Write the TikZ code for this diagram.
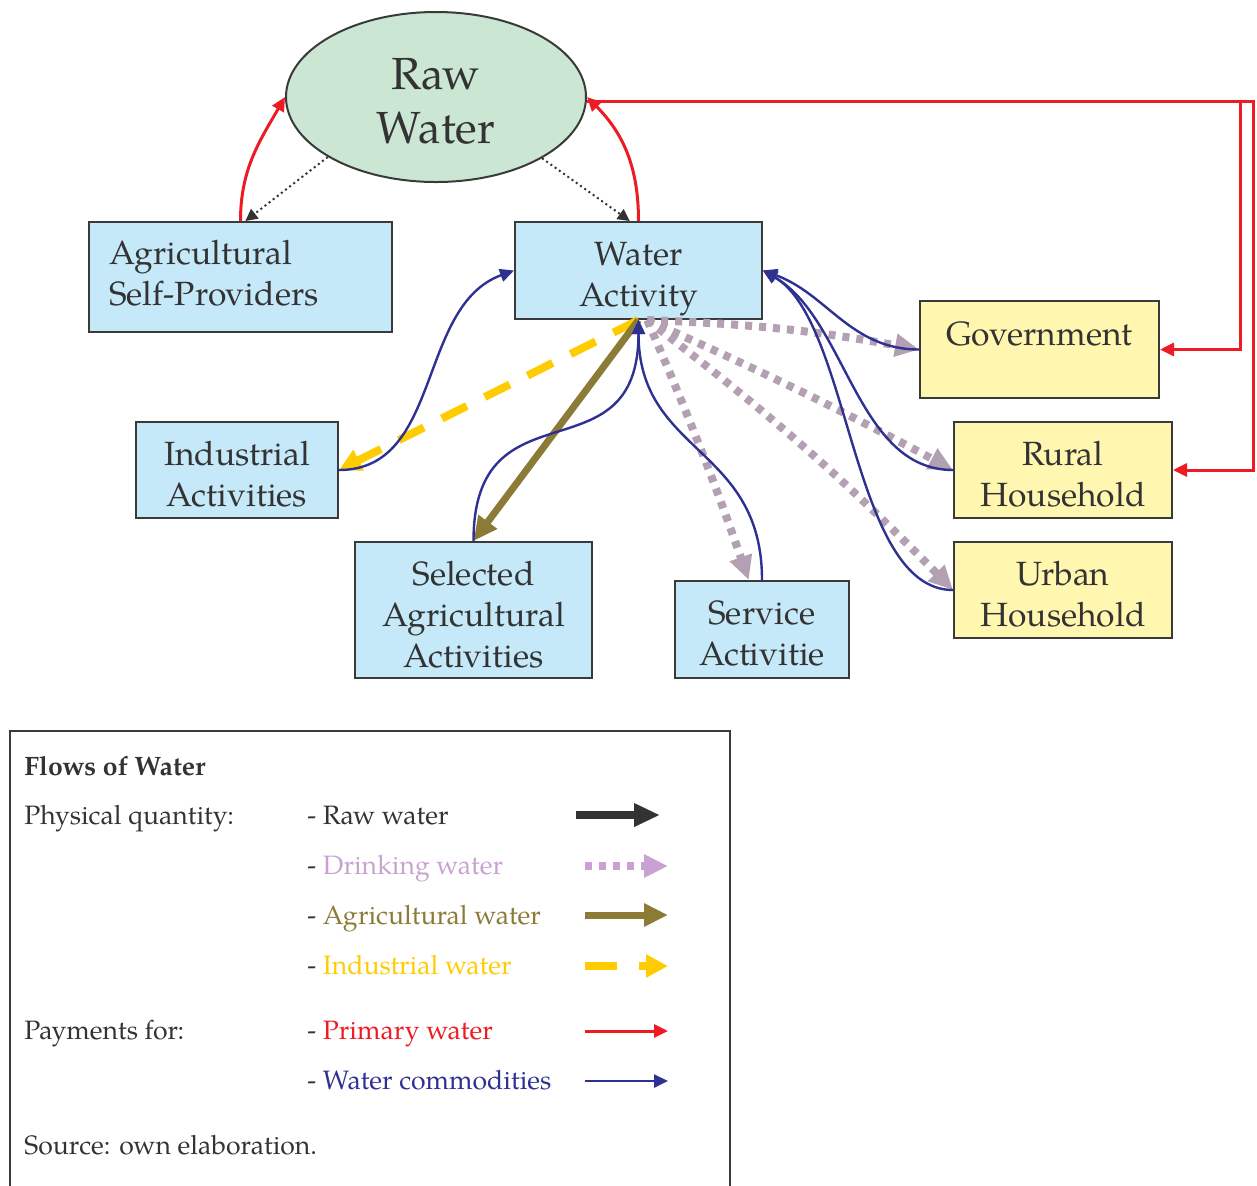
\documentclass[tikz,border=0pt]{standalone}
\usepackage{fontspec}
\setmainfont{texgyrepagella}[Extension=.otf,UprightFont=*-regular,BoldFont=*-bold,ItalicFont=*-italic,BoldItalicFont=*-bolditalic]
\usetikzlibrary{arrows.meta,shapes.geometric}

\definecolor{rawgreen}{HTML}{CBE6D3}
\definecolor{actblue}{HTML}{C5E9F8}
\definecolor{hhyellow}{HTML}{FFF7B0}
\definecolor{edgegray}{HTML}{3A3A3A}
\definecolor{txtgray}{HTML}{333333}
\definecolor{commodblue}{HTML}{2E3192}
\definecolor{primred}{HTML}{ED1C24}
\definecolor{agrolive}{HTML}{8C7B37}
\definecolor{indyellow}{HTML}{FFCC00}
\definecolor{drinkgray}{HTML}{B3A0B2}
\definecolor{drinklilac}{HTML}{C9A2D1}

% invisible strut that pushes a box text down (top) or up (bottom)
\newcommand\topgap[1]{\rule{0pt}{#1}}
\newcommand\botgap[1]{\rule[-#1]{0pt}{#1}}

\begin{document}
\begin{tikzpicture}[x=0.5pt,y=-0.5pt,
      box/.style={draw=edgegray,line width=1pt,fill=actblue,text=txtgray,align=center,inner sep=0pt,
        font=\fontsize{16.8}{20.5}\selectfont},
      hhbox/.style={box,fill=hhyellow},
      legtext/.style={anchor=base west,inner sep=0pt,text=txtgray,font=\fontsize{13.3}{16}\selectfont},
      rawflow/.style={draw=txtgray,line width=1pt,dash pattern=on 1pt off 1.6pt,-{Triangle[length=6pt,width=6pt]}},
      drink/.style={draw=drinkgray,line width=4pt,dash pattern=on 3.5pt off 3.5pt,-{Triangle[length=12pt,width=11pt]}},
      agrflow/.style={draw=agrolive,line width=3.5pt,-{Triangle[length=12pt,width=11pt]}},
      indflow/.style={draw=indyellow,line width=4pt,dash pattern=on 14pt off 10pt,-{Triangle[length=11pt,width=11pt]}},
      pay/.style={draw=primred,line width=1.5pt,-{Triangle[length=7pt,width=6.5pt]}},
      commod/.style={draw=commodblue,line width=1.2pt,-{Triangle[length=7pt,width=6.5pt]}}]
    \useasboundingbox (0,0) rectangle (1257,1185);

    % actors
    \node[ellipse,draw=edgegray,line width=1pt,fill=rawgreen,minimum width=150pt,minimum height=85pt,
      inner sep=0pt,align=center,text=txtgray,font=\fontsize{22.5}{27}\selectfont] (rawwater) at (436,97) {\topgap{19.6pt}Raw\\Water};
    \node[box,minimum width=151.5pt,minimum height=55pt,text width=131.5pt,align=left] (agself) at (240.5,277) {Agricultural\\Self-Providers\botgap{4.5pt}};
    \node[box,minimum width=123.5pt,minimum height=48.5pt] (wa) at (638.5,270.5) {\topgap{20.6pt}Water\\Activity};
    \node[hhbox,minimum width=119.5pt,minimum height=48.5pt] (gov) at (1039.5,349.5) {\topgap{16.6pt}Government\\\mbox{}};
    \node[hhbox,minimum width=109pt,minimum height=48pt] (rural) at (1063,470) {\topgap{16.2pt}Rural\\Household};
    \node[hhbox,minimum width=109pt,minimum height=48pt] (urban) at (1063,590) {\topgap{16.2pt}Urban\\Household};
    \node[box,minimum width=101pt,minimum height=48pt] (indus) at (237,470) {\topgap{16.2pt}Industrial\\Activities};
    \node[box,minimum width=118.5pt,minimum height=68pt] (selagri) at (473.5,610) {\topgap{17.2pt}Selected\\Agricultural\\Activities};
    \node[box,minimum width=87pt,minimum height=48.5pt] (service) at (762,629.5) {\topgap{15.6pt}Service\\Activitie};

    % raw water
    \draw[rawflow] (rawwater.209.5) -- (agself.85);
    \draw[rawflow] (rawwater.330.5) -- (wa.100);

    % primary water payments
    \coordinate (payturn) at (1253,101);
    \coordinate (govturn) at (1240,101);
    \draw[pay] (agself.north) to[out=90,in=240] (rawwater.west);
    \draw[pay] (wa.north) to[out=90,in=-45] (rawwater.east);
    \draw[pay] (rawwater.east |- payturn) -- (payturn) |- (rural.east);
    \draw[pay] (govturn) |- (gov.east);

    % physical flows out of the water activity
    \draw[indflow] (wa.south) -- (indus.east);
    \draw[agrflow] (wa.south) -- (selagri.north);
    \draw[drink] (wa.-80) to[bend left=4] (gov.west);
    \draw[drink] (wa.-80) to[bend left=2] (rural.west);
    \draw[drink] (wa.-80) to[bend left=4] (urban.west);
    \draw[drink] (wa.-80) to[bend left=2] (service.105);

    % payments for water commodities
    \draw[commod] (indus.east) to[out=0,in=200] (wa.west);
    \draw[commod] (selagri.north) to[out=90,in=-90,looseness=1.5] (wa.south);
    \draw[commod] (service.north) to[out=90,in=-90,looseness=1.2] (wa.south);
    \draw[commod] (gov.west) to[out=180,in=-20] (wa.east);
    \draw[commod] (rural.west) to[out=180,in=-30,looseness=0.9] (wa.east);
    \draw[commod] (urban.west) to[out=180,in=-30,looseness=0.7] (wa.east);

    % legend
    \draw[edgegray,line width=0.8pt] (10,731) rectangle (730,1200);
    \node[legtext] (legtitle) at (24,775) {\bfseries Flows of Water};
    \node[legtext] (physq) at (24,824) {Physical quantity:};
    \node[legtext] (lraw) at (307,824) {- Raw water};
    \node[legtext] (ldrink) at (307,874) {- \textcolor{drinklilac}{Drinking water}};
    \node[legtext] (lagr) at (307,924) {- \textcolor{agrolive}{Agricultural water}};
    \node[legtext] (lind) at (307,974) {- \textcolor{indyellow}{Industrial water}};
    \node[legtext] (payfor) at (24,1039) {Payments for:};
    \node[legtext] (lprim) at (307,1039) {- \textcolor{primred}{Primary water}};
    \node[legtext] (lcomm) at (307,1089) {- \textcolor{commodblue}{Water commodities}};
    \node[legtext] (source) at (24,1154) {Source: own elaboration.};

    \coordinate (sraw) at (576,815);
    \coordinate (sdrink) at (585,866);
    \coordinate (sagr) at (585,915);
    \coordinate (sind) at (585,966);
    \coordinate (sprim) at (585,1031);
    \coordinate (scomm) at (585,1081);
    \draw[draw=txtgray,line width=4pt,-{Triangle[length=13pt,width=11pt]}] (sraw) -- ++(84,0);
    \draw[drink,draw=drinklilac] (sdrink) -- ++(83,0);
    \draw[agrflow] (sagr) -- ++(83,0);
    \draw[indflow,dash pattern=on 16pt off 11pt] (sind) -- ++(83,0);
    \draw[pay] (sprim) -- ++(83,0);
    \draw[commod] (scomm) -- ++(83,0);
  \end{tikzpicture}
\end{document}
